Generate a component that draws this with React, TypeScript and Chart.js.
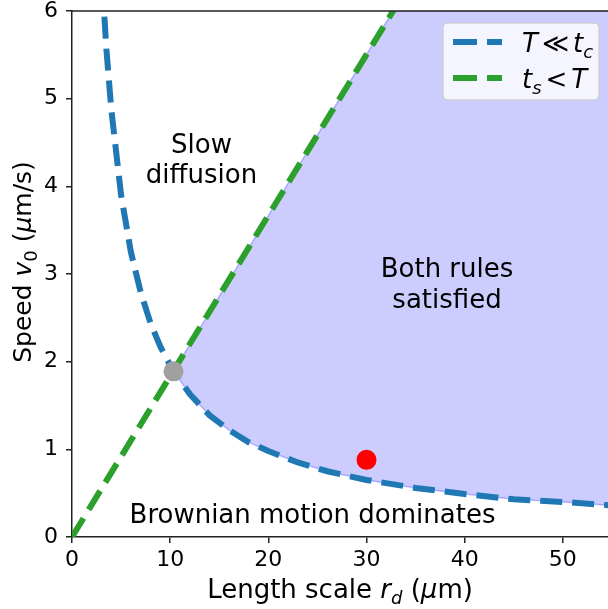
import React, { useEffect, useRef } from "react";
import { Chart, registerables } from "chart.js";

Chart.register(...registerables);

// Blue dashed curve: T << t_c boundary (speed vs length scale)
const blueX = [3.1, 3.5, 4, 5, 6, 7, 8, 9, 10.34, 12, 14, 16, 18, 20, 23, 26, 30, 35, 40, 45, 50, 55, 57];
const blueY = [6.3, 5.57, 4.88, 3.9, 3.25, 2.79, 2.44, 2.17, 1.89, 1.63, 1.39, 1.22, 1.08, 0.98, 0.85, 0.75, 0.65, 0.56, 0.49, 0.43, 0.4, 0.36, 0.345];

// Green dashed line: t_s < T boundary
const greenX = [0, 35];
const greenY = [0, 6.42];

// Upper edge of the shaded "both rules satisfied" region
const regionTopX = [10.34, 32.7, 57];
const regionTopY = [1.89, 6, 6];

// Marked points
const markX = [10.34, 30];
const markY = [1.89, 0.88];
const markColors = ["#a0a0a0", "#ff0000"];

const xMin = 0;
const xMax = 54.6;
const yMin = 0;
const yMax = 6;
const xStep = 10;
const yStep = 1;

const FONT = "'DejaVu Sans'";

type Part = { t: string; it?: boolean; sub?: boolean; gap?: number };

function drawRich(ctx: CanvasRenderingContext2D, parts: Part[], x: number, y: number, size: number, align: "center" | "left") {
  const fontOf = (p: Part) => `${p.it ? "italic " : ""}${p.sub ? Math.round(size * 0.7) : size}px ${FONT}`;
  let total = 0;
  const widths = parts.map((p) => {
    ctx.font = fontOf(p);
    const w = ctx.measureText(p.t).width + 2 * (p.gap || 0);
    total += w;
    return w;
  });
  let cx = align === "center" ? x - total / 2 : x;
  ctx.textAlign = "left";
  ctx.textBaseline = "alphabetic";
  parts.forEach((p, i) => {
    ctx.font = fontOf(p);
    ctx.fillText(p.t, cx + (p.gap || 0), y + (p.sub ? size * 0.22 : 0));
    cx += widths[i];
  });
}

const overlayPlugin = {
  id: "overlay",
  afterDraw(chart: any) {
    const ctx: CanvasRenderingContext2D = chart.ctx;
    const area = chart.chartArea;
    ctx.save();
    // top spine
    ctx.strokeStyle = "#222";
    ctx.lineWidth = 1.5;
    ctx.beginPath();
    ctx.moveTo(area.left, area.top);
    ctx.lineTo(area.right, area.top);
    ctx.stroke();

    ctx.fillStyle = "#000";
    const S = 26;
    // annotations
    drawRich(ctx, [{ t: "Slow" }], 201.5, 153, S, "center");
    drawRich(ctx, [{ t: "diffusion" }], 201.5, 183, S, "center");
    drawRich(ctx, [{ t: "Both rules" }], 447, 277, S, "center");
    drawRich(ctx, [{ t: "satisfied" }], 447, 308, S, "center");
    drawRich(ctx, [{ t: "Brownian motion dominates" }], 312.5, 523, S, "center");

    // x axis title
    drawRich(
      ctx,
      [{ t: "Length scale " }, { t: "r", it: true }, { t: "d", it: true, sub: true }, { t: " (" }, { t: "μ", it: true }, { t: "m)" }],
      340,
      598,
      S,
      "center"
    );
    // y axis title
    ctx.save();
    ctx.translate(31, 262);
    ctx.rotate(-Math.PI / 2);
    drawRich(
      ctx,
      [{ t: "Speed " }, { t: "v", it: true }, { t: "0", sub: true }, { t: " (" }, { t: "μ", it: true }, { t: "m/s)" }],
      0,
      0,
      25,
      "center"
    );
    ctx.restore();

    // legend
    const lx = 443, ly = 23, lw = 156, lh = 77, r = 5;
    ctx.beginPath();
    ctx.moveTo(lx + r, ly);
    ctx.lineTo(lx + lw - r, ly);
    ctx.quadraticCurveTo(lx + lw, ly, lx + lw, ly + r);
    ctx.lineTo(lx + lw, ly + lh - r);
    ctx.quadraticCurveTo(lx + lw, ly + lh, lx + lw - r, ly + lh);
    ctx.lineTo(lx + r, ly + lh);
    ctx.quadraticCurveTo(lx, ly + lh, lx, ly + lh - r);
    ctx.lineTo(lx, ly + r);
    ctx.quadraticCurveTo(lx, ly, lx + r, ly);
    ctx.closePath();
    ctx.fillStyle = "rgba(255,255,255,0.8)";
    ctx.fill();
    ctx.strokeStyle = "rgba(204,204,204,0.8)";
    ctx.lineWidth = 1.5;
    ctx.stroke();

    const entries = [
      { color: "#1f77b4", y: 42, parts: [{ t: "T", it: true }, { t: "≪", gap: 4 }, { t: "t", it: true }, { t: "c", it: true, sub: true }] as Part[] },
      { color: "#2ca02c", y: 78, parts: [{ t: "t", it: true }, { t: "s", it: true, sub: true }, { t: "<", gap: 4 }, { t: "T", it: true }] as Part[] },
    ];
    entries.forEach((e) => {
      ctx.strokeStyle = e.color;
      ctx.lineWidth = 6;
      ctx.lineCap = "butt";
      ctx.setLineDash([24, 10]);
      ctx.beginPath();
      ctx.moveTo(453, e.y);
      ctx.lineTo(502, e.y);
      ctx.stroke();
      ctx.setLineDash([]);
      ctx.fillStyle = "#000";
      drawRich(ctx, e.parts, 522, e.y + 10, S, "left");
    });
    ctx.restore();
  },
};

export default function App() {
  const ref = useRef<HTMLCanvasElement | null>(null);

  useEffect(() => {
    if (!ref.current) return;
    const bluePts = blueX.map((x, i) => ({ x, y: blueY[i] }));
    const greenPts = greenX.map((x, i) => ({ x, y: greenY[i] }));
    const regionPts = [
      ...regionTopX.map((x, i) => ({ x, y: regionTopY[i] })),
      ...bluePts.filter((p) => p.x >= regionTopX[0]).reverse(),
    ];
    const markPts = markX.map((x, i) => ({ x, y: markY[i] }));

    const tickFont = { family: FONT, size: 22, lineHeight: 1 };
    const chart = new Chart(ref.current, {
      type: "line",
      data: {
        datasets: [
          {
            data: markPts,
            showLine: false,
            pointRadius: 10,
            pointBackgroundColor: markColors,
            pointBorderWidth: 0,
            order: 0,
          } as any,
          {
            data: greenPts,
            borderColor: "#2ca02c",
            borderWidth: 6,
            borderDash: [22, 10],
            borderCapStyle: "butt",
            pointRadius: 0,
            fill: false,
            order: 1,
          },
          {
            data: bluePts,
            borderColor: "#1f77b4",
            borderWidth: 6,
            borderDash: [22, 10],
            borderCapStyle: "butt",
            pointRadius: 0,
            fill: false,
            tension: 0,
            order: 2,
          },
          {
            data: regionPts,
            borderColor: "rgba(0,0,255,0.25)",
            borderWidth: 1.5,
            backgroundColor: "rgba(0,0,255,0.2)",
            pointRadius: 0,
            fill: "shape",
            order: 3,
          } as any,
        ],
      },
      options: {
        responsive: false,
        animation: false,
        devicePixelRatio: 1,
        events: [],
        layout: { autoPadding: false, padding: { top: 11, right: 0, left: 0, bottom: 0 } },
        plugins: { legend: { display: false }, tooltip: { enabled: false } },
        scales: {
          x: {
            type: "linear",
            min: xMin,
            max: xMax,
            ticks: { stepSize: xStep, includeBounds: false, font: tickFont, color: "#000", padding: 6, maxRotation: 0 },
            grid: { display: true, drawOnChartArea: false, drawTicks: true, tickLength: 6, color: "#222", lineWidth: 1.5 },
            border: { display: true, color: "#222", width: 1.5 },
            afterFit: (s: any) => {
              s.height = 72;
              s.paddingLeft = 0;
              s.paddingRight = 0;
            },
          },
          y: {
            type: "linear",
            min: yMin,
            max: yMax,
            ticks: { stepSize: yStep, includeBounds: false, font: tickFont, color: "#000", padding: 8 },
            grid: { display: true, drawOnChartArea: false, drawTicks: true, tickLength: 6, color: "#222", lineWidth: 1.5 },
            border: { display: true, color: "#222", width: 1.5 },
            afterFit: (s: any) => {
              s.width = 72;
              s.paddingTop = 0;
              s.paddingBottom = 0;
            },
          },
        },
      },
      plugins: [overlayPlugin],
    } as any);
    return () => chart.destroy();
  }, []);

  return (
    <div style={{ position: "absolute", left: 0, top: 0, width: 608, height: 609, background: "#fff" }}>
      <canvas ref={ref} width={608} height={609} style={{ display: "block" }} />
    </div>
  );
}
